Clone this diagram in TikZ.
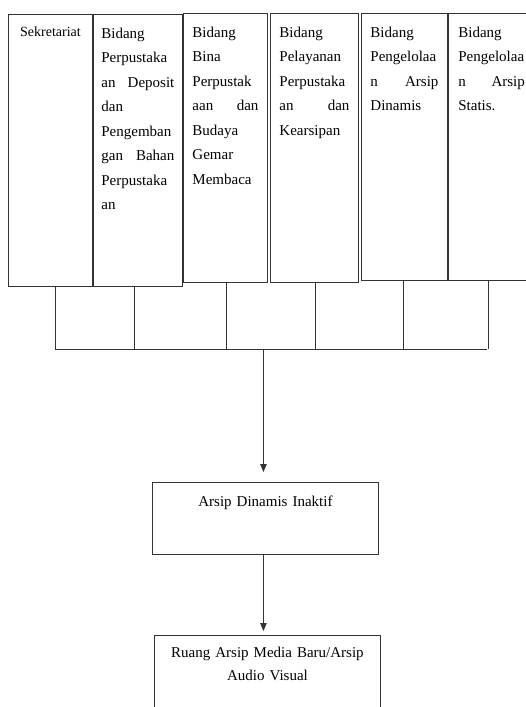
\documentclass[tikz,border=0pt]{standalone}
\usepackage{fontspec}
\setmainfont{Liberation Serif}
\usetikzlibrary{arrows.meta}

\tikzset{
  unit/.style={draw=black!80, line width=0.9pt, anchor=north west, align=left,
    inner xsep=8pt, inner ysep=12pt, text height=12pt,
    font=\fontsize{15}{24.5}\selectfont},
  store/.style={draw=black!80, line width=0.9pt, anchor=north west, align=center,
    text width=210pt, inner xsep=8pt, inner ysep=12pt, text height=12pt,
    font=\fontsize{15}{23}\selectfont},
  link/.style={draw=black!80, line width=0.8pt},
  flow/.style={link, -{Triangle[length=8pt,width=6.5pt]}}
}

\begin{document}
\begin{tikzpicture}[x=1pt,y=-1pt]
            \useasboundingbox (0,0) rectangle (526,707);
            % bidang-bidang
            \node[unit, align=center, text width=68pt, text height=10pt, text depth=238pt,
                  font=\fontsize{14}{17}\selectfont] (sek) at (8,14) {Sekretariat};
            \node[unit, text width=73pt, text depth=236pt] (dep) at (sek.north east)
                {Bidang\\Perpustaka\\an\hfill Deposit\\dan\\Pengemban\\gan\hfill Bahan\\Perpustaka\\an};
            \node[unit, text width=66pt, inner xsep=9pt, text depth=233pt] (bina) at (183,13)
                {Bidang\\Bina\\Perpustak\\aan\hfill dan\\Budaya\\Gemar\\Membaca};
            \node[unit, text width=70pt, inner xsep=9pt, text depth=233pt] (pel) at (270,13)
                {Bidang\\Pelayanan\\Perpustaka\\an\hfill dan\\Kearsipan};
            \node[unit, text width=68pt, inner xsep=9pt, text depth=231pt] (din) at (361,13)
                {Bidang\\Pengelolaa\\n\hfill Arsip\\Dinamis};
            \node[unit, text width=66.5pt, inner xsep=10pt, text depth=231pt] (sta) at (din.north east)
                {Bidang\\Pengelolaa\\n\hfill Arsip\\Statis.};

            % arsip
            \node[store, text depth=36pt] (ina) at (152,482) {Arsip Dinamis Inaktif};
            \node[store, text height=10pt, text depth=100pt] (ruang) at (154,635)
                {Ruang Arsip Media Baru/Arsip\\Audio Visual};

            % garis penghubung
            \coordinate (busL) at (55,349);
            \coordinate (busR) at (487,349);
            \draw[link] (busL) -- (busR);
            \foreach \n/\dx in {sek/5, dep/-3.5, bina/1, pel/1, din/-1, sta/-3}
                \draw[link] ([xshift=\dx pt]\n.south) -- ([xshift=\dx pt]\n.south |- busL);
            \draw[flow, shorten >=10pt] ([xshift=-2pt]ina.north |- busL) -- ([xshift=-2pt]ina.north);
            \draw[flow, shorten >=4pt] ([xshift=-2pt]ina.south) -- ([xshift=-2pt]ina.south |- ruang.north);
\end{tikzpicture}
\end{document}
